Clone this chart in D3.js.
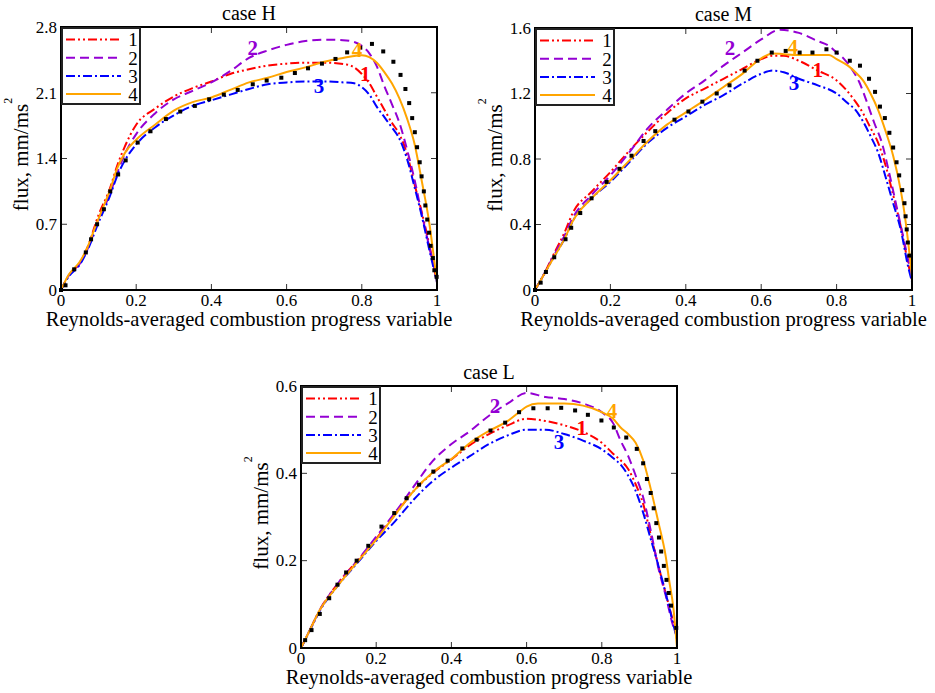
<!DOCTYPE html>
<html>
<head>
<meta charset="utf-8">
<script src="https://cdn.jsdelivr.net/npm/d3@7"></script>
<style>
  body { margin: 0; background: #fff; }
  svg { display: block; }
  text { font-family: "Liberation Serif", "Times New Roman", serif; fill: #000; }
</style>
</head>
<body>
<div id="chart"></div>
<script>
// ticks
const xTicks = [0, 0.2, 0.4, 0.6, 0.8, 1]
const yTicksH = [0, 0.7, 1.4, 2.1, 2.8]
const yTicksM = [0, 0.4, 0.8, 1.2, 1.6]
const yTicksL = [0, 0.2, 0.4, 0.6]

// series 1..4 (legend)
const seriesNames = ['1', '2', '3', '4']
const seriesColors = ['#ff0000', '#9400d3', '#0000ff', '#ffa500']
const seriesDash = ['9,3,2,3,2,3', '9,5', '9,3,2,3', null]

// case H
const h1 = [[0,0],[0.02,0.15],[0.05,0.29],[0.07,0.45],[0.1,0.8],[0.13,1.08],[0.15,1.33],[0.17,1.53],[0.2,1.76],[0.25,1.93],[0.3,2.06],[0.35,2.15],[0.4,2.22],[0.45,2.3],[0.5,2.35],[0.55,2.39],[0.6,2.41],[0.65,2.42],[0.7,2.42],[0.76,2.4],[0.78,2.37],[0.8,2.3],[0.82,2.2],[0.84,2.06],[0.86,1.92],[0.88,1.78],[0.9,1.66],[0.92,1.45],[0.94,1.13],[0.96,0.82],[0.98,0.47],[1,0.08]]
const h2 = [[0,0],[0.02,0.15],[0.05,0.28],[0.07,0.43],[0.1,0.75],[0.13,1.02],[0.15,1.25],[0.17,1.45],[0.2,1.66],[0.25,1.88],[0.3,2.03],[0.35,2.12],[0.4,2.21],[0.45,2.33],[0.5,2.47],[0.55,2.55],[0.6,2.61],[0.65,2.65],[0.7,2.665],[0.75,2.66],[0.78,2.64],[0.8,2.6],[0.82,2.52],[0.84,2.38],[0.86,2.17],[0.88,1.98],[0.9,1.78],[0.92,1.5],[0.94,1.18],[0.96,0.8],[0.98,0.45],[1,0.1]]
const h3 = [[0,0],[0.02,0.14],[0.05,0.27],[0.07,0.42],[0.1,0.72],[0.13,1.0],[0.15,1.22],[0.17,1.38],[0.2,1.55],[0.25,1.73],[0.3,1.86],[0.35,1.96],[0.4,2.02],[0.45,2.08],[0.5,2.14],[0.55,2.19],[0.6,2.21],[0.65,2.22],[0.7,2.22],[0.75,2.21],[0.78,2.2],[0.8,2.16],[0.82,2.08],[0.84,1.95],[0.86,1.84],[0.88,1.73],[0.9,1.61],[0.92,1.4],[0.94,1.1],[0.96,0.78],[0.98,0.42],[1,0.08]]
const h4 = [[0,0],[0.02,0.16],[0.05,0.3],[0.07,0.45],[0.09,0.66],[0.11,0.86],[0.13,1.06],[0.15,1.3],[0.17,1.46],[0.2,1.6],[0.25,1.76],[0.3,1.91],[0.35,2.0],[0.4,2.05],[0.45,2.13],[0.5,2.21],[0.55,2.26],[0.6,2.32],[0.65,2.37],[0.7,2.43],[0.75,2.47],[0.8,2.5],[0.82,2.48],[0.84,2.42],[0.86,2.32],[0.88,2.2],[0.9,2.04],[0.92,1.83],[0.94,1.56],[0.96,1.15],[0.98,0.7],[0.99,0.4],[1,0.08]]
const dotsH = [[0,0],[0.012,0.05],[0.035,0.22],[0.066,0.4],[0.08,0.54],[0.096,0.7],[0.114,0.86],[0.131,1.05],[0.152,1.23],[0.172,1.38],[0.204,1.57],[0.238,1.69],[0.279,1.82],[0.317,1.9],[0.356,1.96],[0.394,2.03],[0.433,2.08],[0.47,2.13],[0.51,2.19],[0.547,2.23],[0.586,2.26],[0.622,2.31],[0.657,2.36],[0.694,2.41],[0.73,2.46],[0.761,2.53],[0.796,2.58],[0.827,2.62],[0.857,2.54],[0.884,2.43],[0.903,2.29],[0.916,2.14],[0.926,1.99],[0.934,1.83],[0.941,1.68],[0.947,1.52],[0.954,1.36],[0.959,1.21],[0.965,1.05],[0.969,0.9],[0.974,0.75],[0.979,0.61],[0.983,0.47],[0.989,0.34],[0.993,0.21],[0.999,0.14]]
const labelsH = [[0.809,2.3],[0.51,2.58],[0.686,2.18],[0.787,2.555]]

// case M
const m1 = [[0,0],[0.02,0.08],[0.05,0.22],[0.08,0.36],[0.1,0.47],[0.15,0.6],[0.2,0.72],[0.25,0.85],[0.3,0.97],[0.35,1.08],[0.4,1.17],[0.45,1.23],[0.5,1.29],[0.55,1.35],[0.6,1.41],[0.63,1.43],[0.66,1.43],[0.7,1.4],[0.75,1.34],[0.8,1.28],[0.83,1.21],[0.85,1.15],[0.87,1.08],[0.89,0.99],[0.91,0.9],[0.93,0.76],[0.95,0.58],[0.97,0.39],[0.99,0.16],[1,0.06]]
const m2 = [[0,0],[0.02,0.08],[0.05,0.21],[0.08,0.34],[0.1,0.44],[0.15,0.58],[0.2,0.7],[0.25,0.84],[0.3,0.99],[0.35,1.1],[0.4,1.2],[0.45,1.28],[0.5,1.37],[0.55,1.45],[0.6,1.53],[0.65,1.59],[0.7,1.57],[0.75,1.52],[0.78,1.49],[0.8,1.45],[0.82,1.41],[0.84,1.35],[0.86,1.27],[0.88,1.15],[0.9,1.02],[0.92,0.9],[0.94,0.71],[0.96,0.5],[0.98,0.29],[1,0.07]]
const m3 = [[0,0],[0.02,0.08],[0.05,0.2],[0.08,0.32],[0.1,0.42],[0.15,0.56],[0.2,0.66],[0.25,0.78],[0.3,0.9],[0.35,0.99],[0.4,1.06],[0.45,1.13],[0.5,1.19],[0.55,1.26],[0.6,1.32],[0.63,1.34],[0.66,1.33],[0.7,1.29],[0.75,1.25],[0.8,1.2],[0.83,1.14],[0.85,1.1],[0.87,1.03],[0.89,0.94],[0.91,0.84],[0.93,0.69],[0.95,0.53],[0.97,0.37],[0.99,0.14],[1,0.05]]
const m4 = [[0,0],[0.02,0.08],[0.05,0.2],[0.08,0.32],[0.1,0.42],[0.15,0.56],[0.2,0.67],[0.25,0.79],[0.3,0.91],[0.35,1.01],[0.4,1.085],[0.45,1.16],[0.5,1.24],[0.55,1.32],[0.6,1.415],[0.63,1.445],[0.66,1.44],[0.7,1.435],[0.75,1.435],[0.78,1.435],[0.8,1.41],[0.83,1.37],[0.85,1.33],[0.87,1.28],[0.89,1.2],[0.91,1.1],[0.93,0.97],[0.95,0.82],[0.97,0.61],[0.98,0.47],[0.99,0.29],[1,0.08]]
const dotsM = [[0,0],[0.015,0.045],[0.029,0.11],[0.051,0.2],[0.081,0.31],[0.096,0.38],[0.12,0.47],[0.15,0.56],[0.19,0.66],[0.224,0.74],[0.256,0.82],[0.288,0.91],[0.319,0.97],[0.37,1.04],[0.407,1.09],[0.444,1.15],[0.482,1.2],[0.516,1.25],[0.556,1.34],[0.59,1.4],[0.628,1.45],[0.665,1.46],[0.702,1.45],[0.736,1.45],[0.773,1.47],[0.8,1.45],[0.835,1.4],[0.862,1.37],[0.886,1.29],[0.902,1.21],[0.915,1.12],[0.928,1.05],[0.94,0.96],[0.95,0.87],[0.959,0.78],[0.966,0.7],[0.974,0.61],[0.98,0.53],[0.983,0.45],[0.986,0.37],[0.989,0.29],[0.993,0.21]]
const labelsM = [[0.75,1.343],[0.517,1.478],[0.687,1.264],[0.684,1.484]]

// case L
const l1 = [[0,0],[0.02,0.035],[0.05,0.087],[0.1,0.15],[0.15,0.2],[0.2,0.25],[0.25,0.305],[0.3,0.36],[0.35,0.4],[0.4,0.432],[0.45,0.465],[0.5,0.49],[0.55,0.51],[0.6,0.525],[0.65,0.52],[0.7,0.51],[0.75,0.495],[0.8,0.47],[0.83,0.445],[0.85,0.43],[0.87,0.41],[0.89,0.375],[0.91,0.33],[0.93,0.26],[0.95,0.19],[0.97,0.125],[0.99,0.06],[1,0.03]]
const l2 = [[0,0],[0.02,0.035],[0.05,0.087],[0.1,0.15],[0.15,0.2],[0.2,0.255],[0.25,0.31],[0.3,0.37],[0.35,0.428],[0.4,0.467],[0.45,0.497],[0.5,0.532],[0.55,0.56],[0.6,0.584],[0.65,0.575],[0.7,0.57],[0.75,0.56],[0.8,0.54],[0.83,0.515],[0.85,0.475],[0.87,0.44],[0.89,0.395],[0.91,0.345],[0.93,0.27],[0.95,0.185],[0.97,0.12],[0.99,0.05],[1,0.03]]
const l3 = [[0,0],[0.02,0.034],[0.05,0.085],[0.1,0.145],[0.15,0.195],[0.2,0.245],[0.25,0.29],[0.3,0.34],[0.35,0.382],[0.4,0.413],[0.45,0.44],[0.5,0.467],[0.55,0.487],[0.6,0.5],[0.65,0.5],[0.7,0.49],[0.75,0.475],[0.8,0.455],[0.83,0.435],[0.85,0.42],[0.87,0.395],[0.89,0.36],[0.91,0.31],[0.93,0.25],[0.95,0.19],[0.97,0.125],[0.99,0.055],[1,0.02]]
const l4 = [[0,0],[0.02,0.035],[0.05,0.087],[0.1,0.145],[0.15,0.197],[0.2,0.248],[0.25,0.305],[0.3,0.36],[0.35,0.402],[0.4,0.433],[0.45,0.47],[0.5,0.497],[0.55,0.52],[0.58,0.54],[0.6,0.553],[0.63,0.56],[0.7,0.56],[0.75,0.555],[0.8,0.54],[0.83,0.525],[0.85,0.505],[0.87,0.49],[0.89,0.47],[0.91,0.43],[0.93,0.365],[0.95,0.29],[0.97,0.21],[0.98,0.15],[0.99,0.095],[1,0]]
const dotsL = [[0.011,0.018],[0.028,0.041],[0.05,0.078],[0.075,0.114],[0.097,0.145],[0.12,0.173],[0.148,0.2],[0.179,0.234],[0.214,0.278],[0.248,0.309],[0.281,0.343],[0.314,0.374],[0.352,0.404],[0.39,0.429],[0.429,0.457],[0.467,0.477],[0.504,0.498],[0.543,0.516],[0.58,0.54],[0.618,0.549],[0.656,0.549],[0.692,0.55],[0.729,0.544],[0.763,0.534],[0.799,0.521],[0.832,0.505],[0.865,0.482],[0.893,0.456],[0.91,0.423],[0.92,0.387],[0.93,0.355],[0.938,0.32],[0.945,0.286],[0.952,0.253],[0.958,0.221],[0.965,0.188],[0.972,0.156],[0.978,0.126],[0.984,0.097],[0.998,0.046]]
const labelsL = [[0.747,0.504],[0.516,0.556],[0.686,0.472],[0.827,0.543]]

const W = 935, H = 693

const svg = d3.select('#chart')
  .append('svg')
  .attr('width', W)
  .attr('height', H)
  .attr('viewBox', [0, 0, W, H])

// 绘制单个面板
function drawPanel(p) {
  const x = d3.scaleLinear().domain([0, 1]).range([p.left, p.right])
  const y = d3.scaleLinear().domain([0, p.yMax]).range([p.bottom, p.top])
  const g = svg.append('g')

  // tick marks, inside, on all four sides
  const tick = g.append('g').attr('stroke', '#333').attr('stroke-width', 1)
  tick.selectAll('.xb').data(xTicks).join('line')
    .attr('x1', d => x(d)).attr('x2', d => x(d))
    .attr('y1', p.bottom).attr('y2', p.bottom - 6)
  tick.selectAll('.xt').data(xTicks).join('line')
    .attr('x1', d => x(d)).attr('x2', d => x(d))
    .attr('y1', p.top).attr('y2', p.top + 6)
  tick.selectAll('.yl').data(p.yTicks).join('line')
    .attr('x1', p.left).attr('x2', p.left + 6)
    .attr('y1', d => y(d)).attr('y2', d => y(d))
  tick.selectAll('.yr').data(p.yTicks).join('line')
    .attr('x1', p.right).attr('x2', p.right - 6)
    .attr('y1', d => y(d)).attr('y2', d => y(d))

  // tick labels
  g.append('g').selectAll('text').data(xTicks).join('text')
    .attr('x', d => x(d)).attr('y', p.bottom + 15.5)
    .attr('text-anchor', 'middle')
    .attr('font-size', 17)
    .text(d => String(d))
  g.append('g').selectAll('text').data(p.yTicks).join('text')
    .attr('x', p.left - 4).attr('y', d => y(d))
    .attr('dy', '0.34em')
    .attr('text-anchor', 'end')
    .attr('font-size', 17)
    .text(d => String(d))

  // curves
  const line = d3.line()
    .x(d => x(d[0]))
    .y(d => y(d[1]))
    .curve(d3.curveMonotoneX)
  p.curves.forEach((c, i) => {
    g.append('path')
      .datum(c)
      .attr('fill', 'none')
      .attr('stroke', seriesColors[i])
      .attr('stroke-width', 2)
      .attr('stroke-dasharray', seriesDash[i])
      .attr('d', line)
  })

  // reference points
  g.append('g').selectAll('rect').data(p.dots).join('rect')
    .attr('x', d => x(d[0]) - 2)
    .attr('y', d => y(d[1]) - 2)
    .attr('width', 4).attr('height', 4)
    .attr('fill', '#000')

  // curve labels
  g.append('g').selectAll('text').data(p.labels).join('text')
    .attr('x', d => x(d[0])).attr('y', d => y(d[1]))
    .attr('dy', '0.35em')
    .attr('text-anchor', 'middle')
    .attr('font-size', 21)
    .attr('font-weight', 'bold')
    .style('fill', (d, i) => seriesColors[i])
    .text((d, i) => seriesNames[i])

  // frame
  g.append('rect')
    .attr('x', p.left).attr('y', p.top)
    .attr('width', p.right - p.left).attr('height', p.bottom - p.top)
    .attr('fill', 'none').attr('stroke', '#000').attr('stroke-width', 2)

  // legend
  const lg = g.append('g').attr('transform', `translate(${p.left + 1},${p.top + 1})`)
  lg.append('rect')
    .attr('width', 78).attr('height', 76)
    .attr('fill', '#fff').attr('stroke', '#222').attr('stroke-width', 2)
  seriesNames.forEach((name, i) => {
    const yy = 11.5 + i * 18.2
    lg.append('line')
      .attr('x1', 4).attr('x2', 59)
      .attr('y1', yy).attr('y2', yy)
      .attr('stroke', seriesColors[i])
      .attr('stroke-width', 2)
      .attr('stroke-dasharray', seriesDash[i])
    lg.append('text')
      .attr('x', 71).attr('y', yy)
      .attr('dy', '0.36em')
      .attr('text-anchor', 'middle')
      .attr('font-size', 19)
      .text(name)
  })

  // title
  g.append('text')
    .attr('x', (p.left + p.right) / 2).attr('y', p.top - 7.5)
    .attr('text-anchor', 'middle')
    .attr('font-size', 20)
    .text(p.title)

  // x label
  g.append('text')
    .attr('x', (p.left + p.right) / 2).attr('y', p.bottom + 35.5)
    .attr('text-anchor', 'middle')
    .attr('font-size', 20.6)
    .text('Reynolds-averaged combustion progress variable')

  // y label
  const yl = g.append('text')
    .attr('transform', `translate(${p.left - 33},${(p.top + p.bottom) / 2 - 4}) rotate(-90)`)
    .attr('text-anchor', 'middle')
    .attr('font-size', 21)
  yl.append('tspan').text('flux, mm/ms')
  yl.append('tspan').attr('dy', -16).attr('font-size', 12).text('2')
}

drawPanel({ title: 'case H', left: 61, right: 437, top: 27, bottom: 290, yMax: 2.8, yTicks: yTicksH,
  curves: [h1, h2, h3, h4], dots: dotsH, labels: labelsH })
drawPanel({ title: 'case M', left: 535, right: 912, top: 28, bottom: 290, yMax: 1.6, yTicks: yTicksM,
  curves: [m1, m2, m3, m4], dots: dotsM, labels: labelsM })
drawPanel({ title: 'case L', left: 301, right: 677, top: 386, bottom: 648, yMax: 0.6, yTicks: yTicksL,
  curves: [l1, l2, l3, l4], dots: dotsL, labels: labelsL })
</script>
</body>
</html>
